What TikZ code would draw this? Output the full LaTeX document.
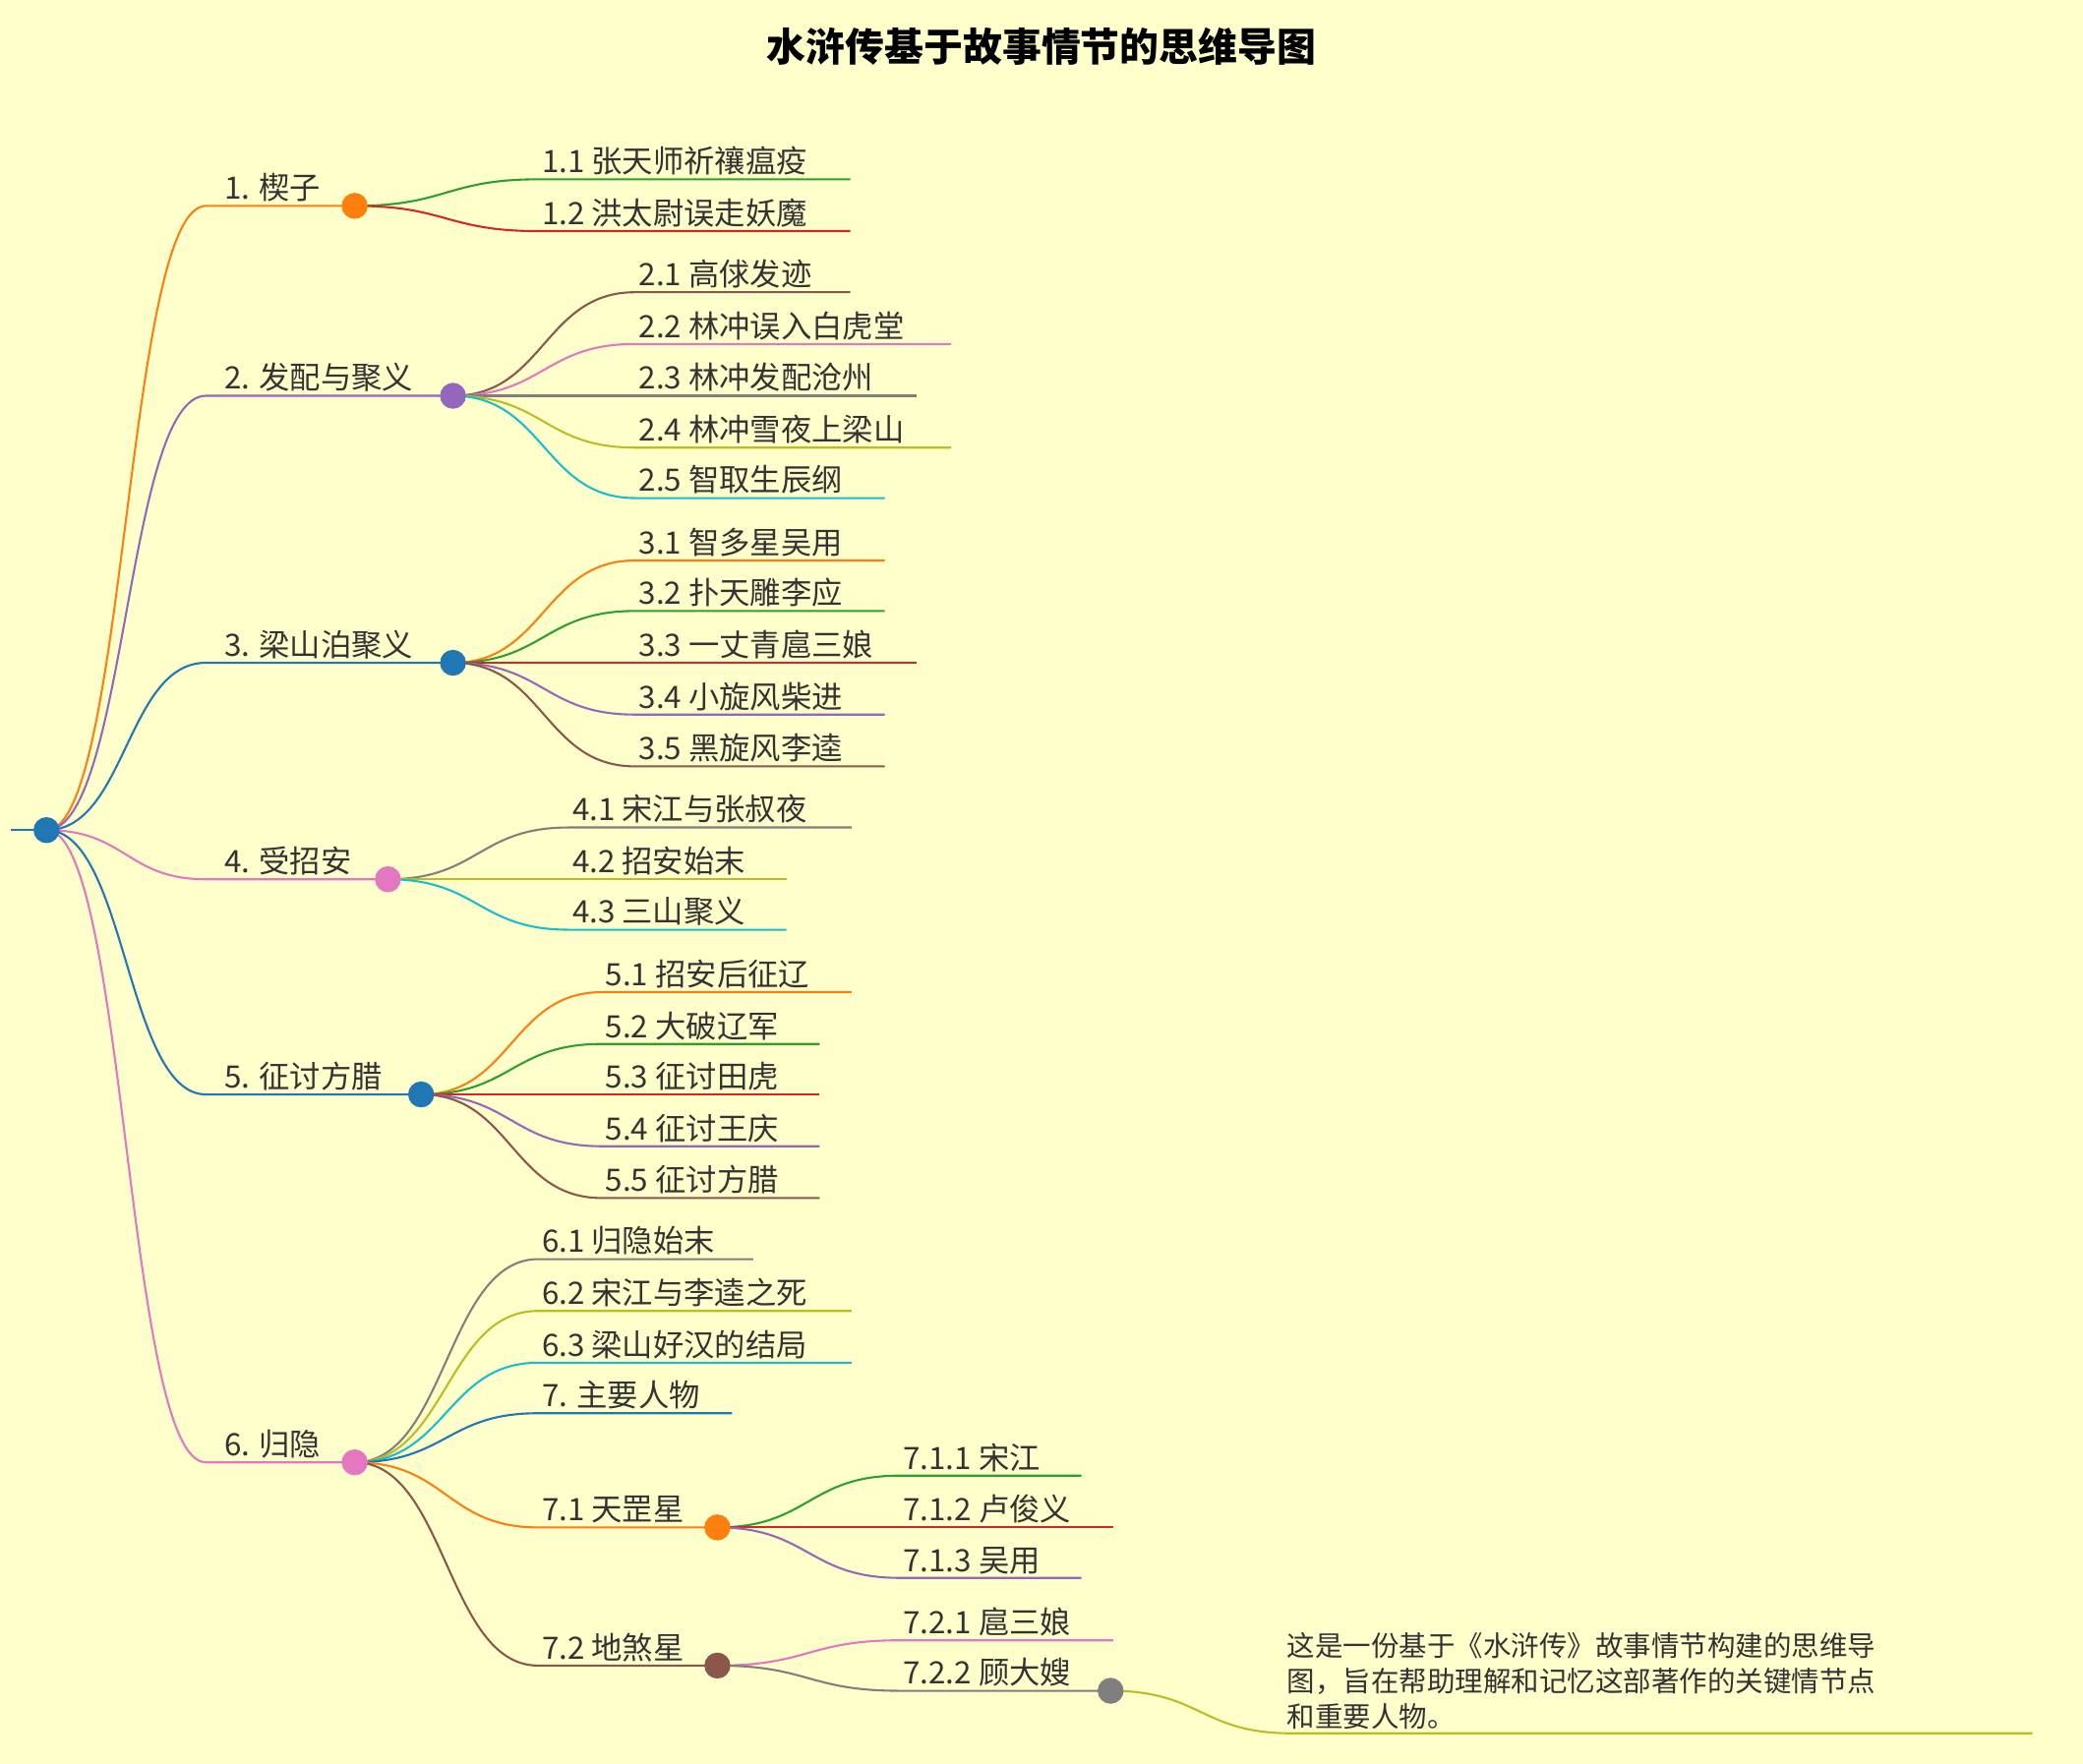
\documentclass[tikz,border=0pt]{standalone}
\usepackage{fontspec}
\setmainfont{Noto Sans CJK SC}
\definecolor{bg}{HTML}{FFFFCC}
\definecolor{cO}{HTML}{FF7F0E}
\definecolor{cG}{HTML}{2CA02C}
\definecolor{cR}{HTML}{D62728}
\definecolor{cP}{HTML}{9467BD}
\definecolor{cB}{HTML}{1F77B4}
\definecolor{cK}{HTML}{E377C2}
\definecolor{cN}{HTML}{8C564B}
\definecolor{cY}{HTML}{7F7F7F}
\definecolor{cL}{HTML}{BCBD22}
\definecolor{cC}{HTML}{17BECF}
\definecolor{txt}{HTML}{333333}
\newcommand\kid[7]{%
 \draw[conn,#6] (#1,#2) .. controls ({(#1+#3)/2},#2) and ({(#1+#3)/2},#4) .. (#3,#4) -- (#5,#4);
 \node[lbl,anchor=south west] at (#3,#4) {#7};}
\newcommand\topk[5]{%
 \draw[conn,#4] (35,625) .. controls (95,625) and (95,#1) .. (155,#1) -- (#2,#1);
 \node[lbl,anchor=south west] at (166,#1) {#5};
 \coordinate (#3) at (#2,#1);}
\tikzset{conn/.style={line width=2.2pt},
 lbl/.style={text=txt,font=\fontsize{33}{38}\selectfont,inner sep=4pt},
 dot/.style={circle,draw,line width=2.2pt,fill=bg,minimum size=0.9cm,inner sep=0pt}}
\begin{document}
\begin{tikzpicture}[x=0.05cm,y=-0.05cm]
\fill[bg] (0,0) rectangle (1568,1328);
\useasboundingbox (0,0) rectangle (1568,1328);
\node[font=\fontsize{42}{48}\selectfont\bfseries] (title) at (784,35) {水浒传基于故事情节的思维导图};
\coordinate (root) at (35,625);
\draw[conn,cB] (8,625) -- (root);
\topk{155}{267}{n1}{cO}{1. 楔子}
\topk{298}{341}{n2}{cP}{2. 发配与聚义}
\topk{499}{341}{n3}{cB}{3. 梁山泊聚义}
\topk{662}{292}{n4}{cK}{4. 受招安}
\topk{824}{317}{n5}{cB}{5. 征讨方腊}
\topk{1101}{267}{n6}{cK}{6. 归隐}
\kid{267}{155}{405}{135}{640}{cG}{1.1 张天师祈禳瘟疫}
\kid{267}{155}{405}{174}{640}{cR}{1.2 洪太尉误走妖魔}
\kid{341}{298}{478}{220}{640}{cN}{2.1 高俅发迹}
\kid{341}{298}{478}{259}{716}{cK}{2.2 林冲误入白虎堂}
\kid{341}{298}{478}{298}{690}{cY}{2.3 林冲发配沧州}
\kid{341}{298}{478}{337}{716}{cL}{2.4 林冲雪夜上梁山}
\kid{341}{298}{478}{375}{666}{cC}{2.5 智取生辰纲}
\kid{341}{499}{478}{422}{666}{cO}{3.1 智多星吴用}
\kid{341}{499}{478}{460}{666}{cG}{3.2 扑天雕李应}
\kid{341}{499}{478}{499}{690}{cR}{3.3 一丈青扈三娘}
\kid{341}{499}{478}{538}{666}{cP}{3.4 小旋风柴进}
\kid{341}{499}{478}{577}{666}{cN}{3.5 黑旋风李逵}
\kid{292}{662}{428}{623}{641}{cY}{4.1 宋江与张叔夜}
\kid{292}{662}{428}{662}{592}{cL}{4.2 招安始末}
\kid{292}{662}{428}{700}{592}{cC}{4.3 三山聚义}
\kid{317}{824}{453}{747}{641}{cO}{5.1 招安后征辽}
\kid{317}{824}{453}{786}{617}{cG}{5.2 大破辽军}
\kid{317}{824}{453}{824}{617}{cR}{5.3 征讨田虎}
\kid{317}{824}{453}{863}{617}{cP}{5.4 征讨王庆}
\kid{317}{824}{453}{902}{617}{cN}{5.5 征讨方腊}
\kid{267}{1101}{405}{948}{567}{cY}{6.1 归隐始末}
\kid{267}{1101}{405}{987}{641}{cL}{6.2 宋江与李逵之死}
\kid{267}{1101}{405}{1026}{641}{cC}{6.3 梁山好汉的结局}
\kid{267}{1101}{405}{1064}{551}{cB}{7. 主要人物}
\kid{267}{1101}{405}{1150}{540}{cO}{7.1 天罡星}
\kid{267}{1101}{405}{1254}{540}{cN}{7.2 地煞星}
\kid{540}{1150}{677}{1111}{814}{cG}{7.1.1 宋江}
\kid{540}{1150}{677}{1150}{838}{cR}{7.1.2 卢俊义}
\kid{540}{1150}{677}{1188}{814}{cP}{7.1.3 吴用}
\kid{540}{1254}{677}{1235}{838}{cK}{7.2.1 扈三娘}
\kid{540}{1254}{677}{1273}{836}{cY}{7.2.2 顾大嫂}
\draw[conn,cL] (836,1273) .. controls (904,1273) and (904,1305) .. (972,1305) -- (1530,1305);
\node[lbl,anchor=south west,align=left,font=\fontsize{30}{38}\selectfont] (note) at (966,1305) {这是一份基于《水浒传》故事情节构建的思维导\\图，旨在帮助理解和记忆这部著作的关键情节点\\和重要人物。};
\node[dot,cB] (r) at (root) {};
\node[dot,cO] at (n1) {};
\node[dot,cP] at (n2) {};
\node[dot,cB] at (n3) {};
\node[dot,cK] at (n4) {};
\node[dot,cB] at (n5) {};
\node[dot,cK] at (n6) {};
\node[dot,cO] (n71) at (540,1150) {};
\node[dot,cN] (n72) at (540,1254) {};
\node[dot,cY] (n722) at (836,1273) {};
\end{tikzpicture}
\end{document}
